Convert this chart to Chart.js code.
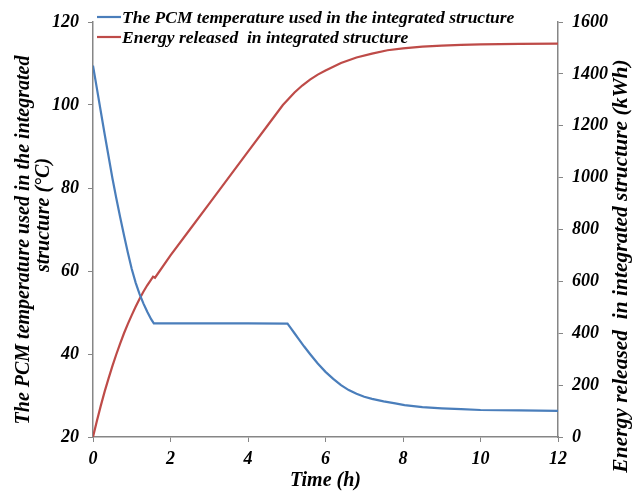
<!DOCTYPE html>
<html>
<head>
<meta charset="utf-8">
<script src="https://cdn.jsdelivr.net/npm/chart.js@4.4.0/dist/chart.umd.min.js"></script>
<style>
  body { margin: 0; background: #fff; }
  #wrap { width: 634px; height: 493px; }
</style>
</head>
<body>
<div id="wrap"><canvas id="pcmChart" width="634" height="493"></canvas></div>
<script>
// PCM temperature (°C) over time (h)
const pcmTime = [0, 0.1, 0.2, 0.3, 0.4, 0.5, 0.6, 0.7, 0.8, 0.9, 1.0, 1.1, 1.2, 1.3, 1.4, 1.5, 1.57, 2, 3, 4, 5.02,
    5.1, 5.2, 5.3, 5.45, 5.6, 5.8, 6.0, 6.2, 6.4, 6.6, 6.8, 7.0, 7.2, 7.5, 7.8, 8.04, 8.5, 9, 9.5, 10, 11, 12];
const pcmTemp = [109.5, 104, 98.5, 93, 87.7, 82.4, 77.6, 73, 68.6, 64.4, 60.5, 57.2, 54.5, 52.2, 50.2, 48.4, 47.4, 47.4, 47.4, 47.4, 47.3,
    46.3, 45.0, 43.7, 41.8, 40.0, 37.7, 35.7, 34.0, 32.5, 31.3, 30.4, 29.7, 29.2, 28.6, 28.1, 27.7, 27.2, 26.9, 26.7, 26.5, 26.4, 26.3];

// energy released (kWh) over time (h)
const energyTime = [0, 0.1, 0.2, 0.3, 0.4, 0.5, 0.6, 0.7, 0.8, 0.9, 1.0, 1.1, 1.2, 1.3, 1.4, 1.5, 1.55, 1.6, 2, 2.5, 3, 3.5, 4, 4.5, 4.9,
    5.2, 5.4, 5.6, 5.8, 6.0, 6.4, 6.8, 7.2, 7.6, 8, 8.5, 9, 9.5, 10, 11, 12];
const energyVal = [0, 62, 120, 175, 225, 273, 318, 360, 400, 436, 470, 502, 532, 560, 585, 607, 618, 614, 700, 800, 900, 1000, 1100, 1200, 1280,
    1328, 1355, 1378, 1397, 1413, 1442, 1463, 1478, 1491, 1498, 1505, 1509, 1512, 1514, 1516, 1517];

const timeTicks = [0, 2, 4, 6, 8, 10, 12];
const tempTicks = [20, 40, 60, 80, 100, 120];
const energyTicks = [0, 200, 400, 600, 800, 1000, 1200, 1400, 1600];

const pcmLabel = "The PCM temperature used in the integrated structure";
const energyLabel = "Energy released  in integrated structure";

const serif = "'Liberation Serif', 'Times New Roman', serif";
const axisGray = "#868686";

const pcmPoints = pcmTime.map((t, i) => ({ x: t, y: pcmTemp[i] }));
const energyPoints = energyTime.map((t, i) => ({ x: t, y: energyVal[i] }));

// legend and axis titles are drawn straight onto the canvas
const textPlugin = {
    id: "textPlugin",
    afterDraw(chart) {
        const c = chart.ctx;
        const area = chart.chartArea;
        c.save();
        c.fillStyle = "#000";
        c.font = "italic bold 17.5px " + serif;
        c.textBaseline = "middle";
        c.textAlign = "left";

        // legend
        const rows = [17, 37];
        chart.data.datasets.forEach((ds, i) => {
            c.strokeStyle = ds.borderColor;
            c.lineWidth = 2.2;
            c.beginPath();
            c.moveTo(97, rows[i]);
            c.lineTo(121, rows[i]);
            c.stroke();
            c.fillText(ds.label, 122, rows[i] + 1);
        });

        c.textAlign = "center";

        // x title
        c.font = "italic bold 20px " + serif;
        c.fillText("Time (h)", (area.left + area.right) / 2, 481);

        // left title, two lines
        c.save();
        c.translate(24, 240);
        c.rotate(-Math.PI / 2);
        c.fillText("The PCM temperature used in the integrated", 0, 0);
        c.fillText("structure (°C)", 25, 20);
        c.restore();

        // right title
        c.save();
        c.font = "italic bold 21.5px " + serif;
        c.translate(621, 266);
        c.rotate(-Math.PI / 2);
        c.fillText("Energy released  in integrated structure (kWh)", 0, 0);
        c.restore();

        c.restore();
    }
};

const tickFont = { family: serif, size: 18, style: "italic", weight: "bold" };
const plainNumber = (v) => String(v);

const ctx = document.getElementById("pcmChart").getContext("2d");
const pcmChart = new Chart(ctx, {
    type: "line",
    data: {
        datasets: [{
            label: pcmLabel,
            data: pcmPoints,
            borderColor: "#4a7ebb",
            borderWidth: 2.2,
            pointRadius: 0,
            tension: 0,
            yAxisID: "y",
        }, {
            label: energyLabel,
            data: energyPoints,
            borderColor: "#be4b48",
            borderWidth: 2.2,
            pointRadius: 0,
            tension: 0,
            yAxisID: "y1",
        }],
    },
    options: {
        responsive: false,
        animation: false,
        layout: { padding: { top: 22, left: 0, right: 0, bottom: 0 } },
        plugins: {
            legend: { display: false },
            tooltip: { enabled: false },
        },
        scales: {
            x: {
                type: "linear",
                min: 0,
                max: 12,
                afterBuildTicks: (s) => { s.ticks = timeTicks.map(v => ({ value: v })); },
                afterFit: (s) => { s.height = 56; },
                ticks: { color: "#000", font: tickFont, padding: 7, maxRotation: 0, callback: plainNumber },
                grid: { drawOnChartArea: false, tickLength: 5, color: axisGray },
                border: { color: axisGray, width: 1.5 },
            },
            y: {
                position: "left",
                min: 20,
                max: 120,
                afterBuildTicks: (s) => { s.ticks = tempTicks.map(v => ({ value: v })); },
                afterFit: (s) => { s.width = 93; },
                ticks: { color: "#000", font: tickFont, padding: 9, callback: plainNumber },
                grid: { drawOnChartArea: false, tickLength: 5, color: axisGray },
                border: { color: axisGray, width: 1.5 },
            },
            y1: {
                position: "right",
                min: 0,
                max: 1600,
                afterBuildTicks: (s) => { s.ticks = energyTicks.map(v => ({ value: v })); },
                afterFit: (s) => { s.width = 76; },
                ticks: { color: "#000", font: tickFont, padding: 9, callback: plainNumber },
                grid: { drawOnChartArea: false, tickLength: 5, color: axisGray },
                border: { color: axisGray, width: 1.5 },
            },
        },
    },
    plugins: [textPlugin],
});
</script>
</body>
</html>
